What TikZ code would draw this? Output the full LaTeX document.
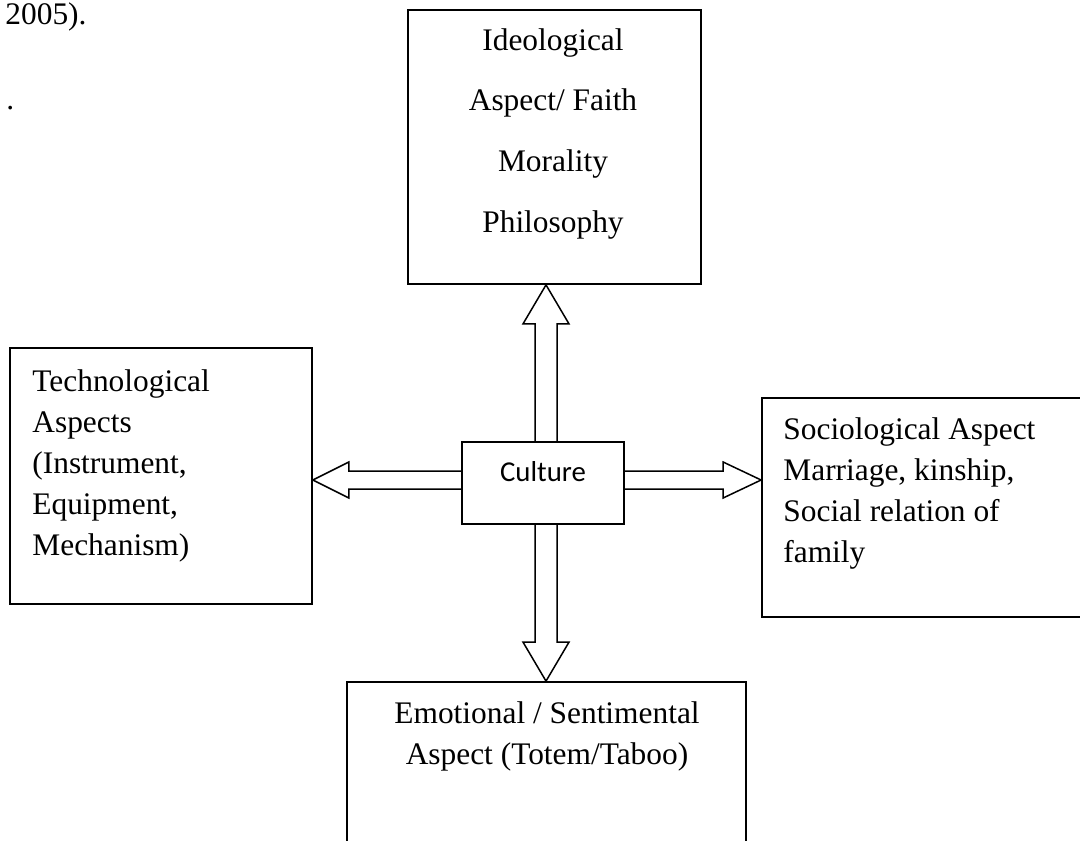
\documentclass[tikz,border=0pt]{standalone}
\usepackage{fontspec}
\setmainfont{Liberation Serif}
\newfontfamily\calibri{Carlito}
\usetikzlibrary{calc}

\begin{document}
\begin{tikzpicture}[x=0.5pt, y=-0.5pt,
    box/.style={draw, line width=0.9pt, inner sep=0pt},
    hollow/.style={draw, line width=0.75pt, line join=miter},
    txt/.style={inner sep=0pt, font=\fontsize{15.7}{20.5}\selectfont}]
  \useasboundingbox (0,0) rectangle (1080,840);
  \clip (0,0) rectangle (1080,840);

  % the five boxes
  \node (ideo) [box, minimum width=146.5pt, minimum height=137pt] at (554.5,147) {};
  \node (culture) [box, minimum width=81pt, minimum height=41pt] at (543,483) {};
  \node (tech) [box, minimum width=151pt, minimum height=128pt] at (161,476) {};
  \node (socio) [box, minimum width=166.5pt, minimum height=109.5pt] at (928.5,507.5) {};
  \node (emo) [box, minimum width=199.5pt, minimum height=110pt] at (546.5,792) {};

  % texts
  \node (year) [txt, anchor=base west] at (5,25) {2005).};
  \node (dot) [txt, anchor=base west] at (6,110) {.};
  \node (ideotxt) [txt, align=center, anchor=north, font=\fontsize{15.7}{30.4}\selectfont] at (553,28) {Ideological\\Aspect/ Faith\\Morality\\Philosophy};
  \node (techtxt) [txt, align=left, anchor=north west] at (32,369) {Technological\\Aspects\\(Instrument,\\Equipment,\\Mechanism)};
  \node (sociotxt) [txt, align=left, anchor=north west] at (783,417) {Sociological Aspect\\Marriage, kinship,\\Social relation of\\family};
  \node (emotxt) [txt, align=center, anchor=north] at (547,701) {Emotional / Sentimental\\Aspect (Totem/Taboo)};
  \node (culturetxt) [inner sep=0pt, anchor=base, font=\calibri\fontsize{14.4}{17}\selectfont] at (543,481) {Culture};

  % hollow arrows out of Culture
  \coordinate (up0) at ($(culture.north)+(3,0)$);
  \coordinate (up1) at (up0 |- ideo.south);
  \draw[hollow] ($(up0)+(-11,0)$) -- ($(up1)+(-11,39)$) -- ($(up1)+(-23,39)$) -- (up1)
    -- ($(up1)+(23,39)$) -- ($(up1)+(11,39)$) -- ($(up0)+(11,0)$);

  \coordinate (dn0) at ($(culture.south)+(3,0)$);
  \coordinate (dn1) at (dn0 |- emo.north);
  \draw[hollow] ($(dn0)+(-11,0)$) -- ($(dn1)+(-11,-39)$) -- ($(dn1)+(-23,-39)$) -- (dn1)
    -- ($(dn1)+(23,-39)$) -- ($(dn1)+(11,-39)$) -- ($(dn0)+(11,0)$);

  \coordinate (lf0) at ($(culture.west)+(0,-3)$);
  \coordinate (lf1) at (lf0 -| tech.east);
  \draw[hollow] ($(lf0)+(0,-9)$) -- ($(lf1)+(36,-9)$) -- ($(lf1)+(36,-18)$) -- (lf1)
    -- ($(lf1)+(36,18)$) -- ($(lf1)+(36,9)$) -- ($(lf0)+(0,9)$);

  \coordinate (rt0) at ($(culture.east)+(0,-3)$);
  \coordinate (rt1) at (rt0 -| socio.west);
  \draw[hollow] ($(rt0)+(0,-9)$) -- ($(rt1)+(-38,-9)$) -- ($(rt1)+(-38,-18)$) -- (rt1)
    -- ($(rt1)+(-38,18)$) -- ($(rt1)+(-38,9)$) -- ($(rt0)+(0,9)$);
\end{tikzpicture}
\end{document}
